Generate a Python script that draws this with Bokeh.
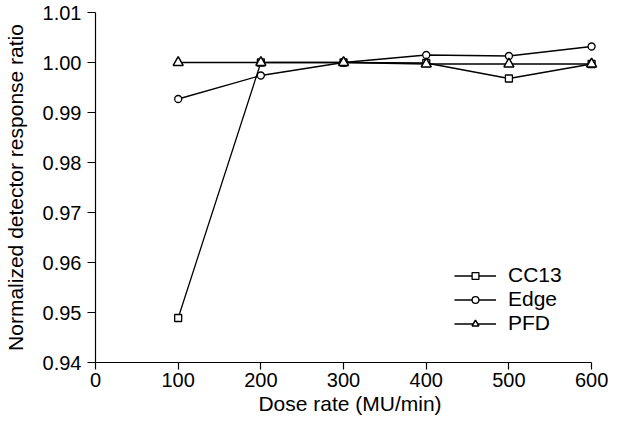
from bokeh.plotting import figure
from bokeh.models import FixedTicker, Range1d, Legend, LegendItem, PrintfTickFormatter
from bokeh.embed import file_html
from bokeh.resources import INLINE

# ---- data ----
dose_rate = [100, 200, 300, 400, 500, 600]
cc13 = [0.9489, 1.0000, 1.0000, 0.9999, 0.9968, 0.9997]
edge = [0.9927, 0.9974, 1.0000, 1.0015, 1.0013, 1.0032]
pfd = [1.0000, 1.0000, 1.0000, 0.9997, 0.9997, 0.9997]
x_ticks = [0, 100, 200, 300, 400, 500, 600]
y_ticks = [0.94, 0.95, 0.96, 0.97, 0.98, 0.99, 1.00, 1.01]
series_names = ["CC13", "Edge", "PFD"]
x_label = "Dose rate (MU/min)"
y_label = "Normalized detector response ratio"

FONT = "Liberation Sans"
TICK_FS = "20px"
LABEL_FS = "21px"

p = figure(width=608, height=421, output_backend="svg", toolbar_location=None,
           x_range=Range1d(0, 615.6), y_range=Range1d(0.94, 1.01),
           min_border_left=90, min_border_right=4, min_border_top=12, min_border_bottom=59)
p.outline_line_color = None
p.xgrid.visible = False
p.ygrid.visible = False
p.background_fill_color = "white"
p.border_fill_color = "white"

for ax in (p.xaxis[0], p.yaxis[0]):
    ax.minor_tick_line_color = None
    ax.major_tick_in = 0
    ax.axis_line_color = "black"
    ax.major_tick_line_color = "black"
    ax.axis_line_width = 1.2
    ax.major_tick_line_width = 1.2
    ax.major_label_text_font = FONT
    ax.major_label_text_font_size = TICK_FS
    ax.major_label_text_line_height = 1.0
    ax.major_label_text_color = "black"
    ax.axis_label_text_font = FONT
    ax.axis_label_text_font_size = LABEL_FS
    ax.axis_label_text_line_height = 1.0
    ax.axis_label_text_font_style = "normal"
    ax.axis_label_text_color = "black"

p.xaxis.bounds = (0, 600)
p.xaxis.ticker = FixedTicker(ticks=x_ticks)
p.xaxis.major_tick_out = 7
p.xaxis.major_label_standoff = 3
p.xaxis.axis_label = x_label
p.xaxis.axis_label_standoff = 2

p.yaxis.ticker = FixedTicker(ticks=y_ticks)
p.yaxis.formatter = PrintfTickFormatter(format="%.2f")
p.yaxis.major_tick_out = 8
p.yaxis.major_label_standoff = 6
p.yaxis.axis_label = y_label
p.yaxis.axis_label_standoff = 13

lw = 1.3
l1 = p.line(dose_rate, cc13, line_color="black", line_width=lw)
s1 = p.scatter(dose_rate, cc13, marker="square", size=7, fill_color="white", line_color="black", line_width=1.3)
l2 = p.line(dose_rate, edge, line_color="black", line_width=lw)
s2 = p.scatter(dose_rate, edge, marker="circle", size=7, fill_color="white", line_color="black", line_width=1.3)
l3 = p.line(dose_rate, pfd, line_color="black", line_width=lw)
s3 = p.scatter(dose_rate, pfd, marker="triangle", size=10, fill_color="white", line_color="black", line_width=1.5)

legend = Legend(items=[LegendItem(label=series_names[0], renderers=[l1, s1]),
                       LegendItem(label=series_names[1], renderers=[l2, s2]),
                       LegendItem(label=series_names[2], renderers=[l3, s3])],
                location=(359, 27), padding=0, margin=0, spacing=0,
                glyph_width=42, glyph_height=17, label_height=24, label_standoff=12,
                border_line_color=None, background_fill_alpha=0,
                label_text_font=FONT, label_text_font_size=LABEL_FS,
                label_text_line_height=1.0, label_text_color="black")
p.add_layout(legend)

open("out.html", "w").write(file_html(p, INLINE))
